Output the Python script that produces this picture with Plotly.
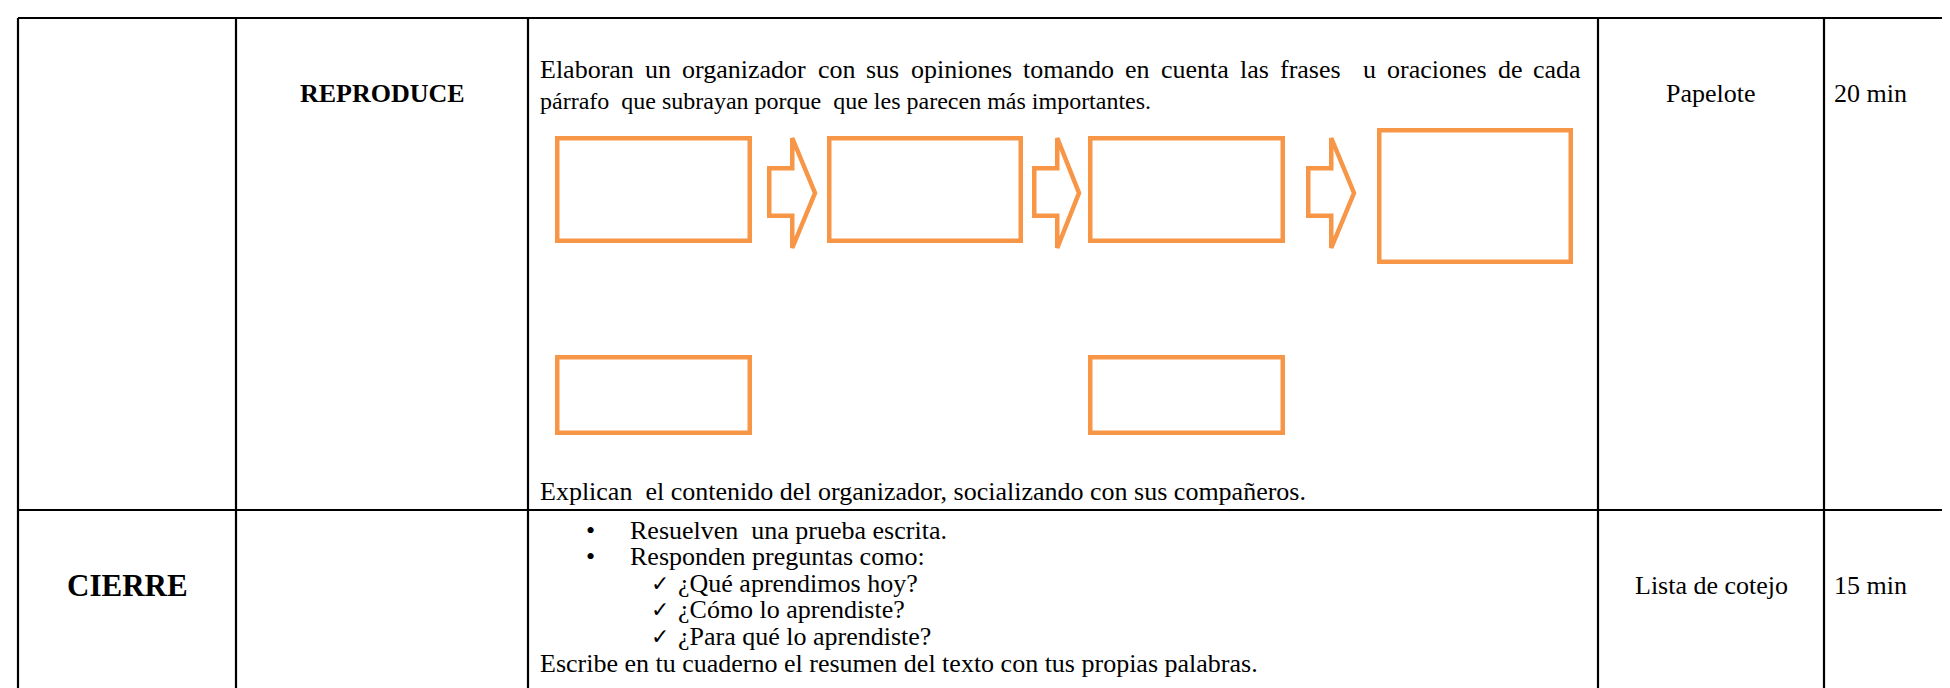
import plotly.graph_objects as go

# ---------------- DATA (text content of the table) ----------------
section_labels = ["", "CIERRE"]
process_labels = ["REPRODUCE", ""]
organizer_lines = [
    "Elaboran un organizador con sus opiniones tomando en cuenta las frases  u oraciones de cada",
    "párrafo  que subrayan porque  que les parecen más importantes.",
]
organizer_closing = "Explican  el contenido del organizador, socializando con sus compañeros."
cierre_bullets = ["Resuelven  una prueba escrita.", "Responden preguntas como:"]
cierre_checks = ["¿Qué aprendimos hoy?", "¿Cómo lo aprendiste?", "¿Para qué lo aprendiste?"]
cierre_closing = "Escribe en tu cuaderno el resumen del texto con tus propias palabras."
materials = ["Papelote", "Lista de cotejo"]
durations = ["20 min", "15 min"]
organizer_top_boxes = 4
organizer_bottom_boxes = [0, 2]   # which columns of the organizer have a second box

# ---------------- LAYOUT (positions / styles) ----------------
WIDTH, HEIGHT = 1950, 688
TABLE_LEFT, TABLE_TOP = 10, 10
COL_X = [228, 520, 1590, 1816]
ROW_DIV = 502
ROW_CENTER = [85, 577]
LINE_W = 2.2
ORANGE = "#F79646"
OWIDTH = 4.5
SERIF = "Liberation Serif, Times New Roman, serif"
FS = 26
FS_LINE2 = 24
TEXT_X = 530
TEXT_RIGHT = 1571
LINE_Y = [61, 93]
CLOSING_Y = 483
BOX_X = [(547, 744), (819, 1015), (1080, 1277), (1369, 1565)]
BOX_Y = [(128, 235), (128, 235), (128, 235), (120, 256)]
BOX2_Y = (347, 427)
ARROW_X = [(759, 782, 810), (1024, 1047, 1074), (1298, 1321, 1349)]
ARROW_Y = (127, 158, 210, 243)
BULLET_X, BULLET_TEXT_X = 582, 620
CHECK_X, CHECK_TEXT_X = 652, 668
LIST_Y0, LIST_DY = 522, 26.6

# Times / Liberation Serif advance widths (1/1000 em) for justification
TW = dict(zip("abcdefghijklmnopqrstuvwxyz",
              [444, 500, 444, 500, 444, 333, 500, 500, 278, 278, 500, 278, 778,
               500, 500, 500, 500, 333, 389, 278, 500, 500, 722, 500, 500, 444]))
TW.update({" ": 250, "E": 611, "á": 444, ",": 250, ".": 250})


def tw(s, size):
    return sum(TW.get(c, 500) for c in s) / 1000.0 * size


fig = go.Figure()
fig.add_trace(go.Scatter(x=[0, WIDTH], y=[0, HEIGHT], mode="markers",
                         marker=dict(opacity=0), hoverinfo="skip", showlegend=False))

shapes = []
# table grid
shapes.append(dict(type="line", x0=TABLE_LEFT, x1=WIDTH + 5, y0=TABLE_TOP, y1=TABLE_TOP))
shapes.append(dict(type="line", x0=TABLE_LEFT, x1=WIDTH + 5, y0=ROW_DIV, y1=ROW_DIV))
for x in [TABLE_LEFT] + COL_X:
    shapes.append(dict(type="line", x0=x, x1=x, y0=TABLE_TOP, y1=HEIGHT + 5))
for s in shapes:
    s.update(xref="x", yref="y", line=dict(color="black", width=LINE_W))

# organizer boxes
ins = OWIDTH / 2
for i in range(organizer_top_boxes):
    (x0, x1), (y0, y1) = BOX_X[i], BOX_Y[i]
    shapes.append(dict(type="rect", xref="x", yref="y", x0=x0 + ins, x1=x1 - ins,
                       y0=y0 + ins, y1=y1 - ins, line=dict(color=ORANGE, width=OWIDTH)))
for i in organizer_bottom_boxes:
    (x0, x1) = BOX_X[i]
    y0, y1 = BOX2_Y
    shapes.append(dict(type="rect", xref="x", yref="y", x0=x0 + ins, x1=x1 - ins,
                       y0=y0 + ins, y1=y1 - ins, line=dict(color=ORANGE, width=OWIDTH)))
# block arrows
ht, st, sb, hb = ARROW_Y
tip_y = (ht + hb) / 2
for (xl, xb, xt) in ARROW_X:
    p = (f"M {xl + ins},{st + ins} L {xb + ins},{st + ins} L {xb + ins},{ht + 3} "
         f"L {xt - 3},{tip_y} L {xb + ins},{hb - 3} L {xb + ins},{sb - ins} "
         f"L {xl + ins},{sb - ins} Z")
    shapes.append(dict(type="path", xref="x", yref="y", path=p,
                       line=dict(color=ORANGE, width=OWIDTH)))

ann = []


def txt(x, y, t, size=FS, bold=False, xanchor="left"):
    ann.append(dict(x=x, y=y, xref="x", yref="y", text=(f"<b>{t}</b>" if bold else t),
                    showarrow=False, xanchor=xanchor, yanchor="middle",
                    font=dict(family=SERIF, size=size, color="black")))


# column 0 / 1 headings
for i, lab in enumerate(section_labels):
    if lab:
        txt((TABLE_LEFT + COL_X[0]) / 2, ROW_CENTER[i], lab, size=31, bold=True, xanchor="center")
for i, lab in enumerate(process_labels):
    if lab:
        txt((COL_X[0] + COL_X[1]) / 2, ROW_CENTER[i], lab, size=26, bold=True, xanchor="center")

# justified first line
words = organizer_lines[0].split(" ")
tokens = []
gap_units = 0
for w in words:
    if w == "":
        gap_units += 1
        continue
    tokens.append((w, gap_units))
    gap_units = 1
total_word = sum(tw(w, FS) for w, _ in tokens)
total_gaps = sum(g for _, g in tokens[1:])
unit = (TEXT_RIGHT - TEXT_X - total_word) / total_gaps
x = TEXT_X
for k, (w, g) in enumerate(tokens):
    if k > 0:
        x += g * unit
    txt(x, LINE_Y[0], w)
    x += tw(w, FS)
# second line (left aligned)
txt(TEXT_X, LINE_Y[1], organizer_lines[1].replace("  ", "\u00a0 "), size=FS_LINE2)
txt(TEXT_X, CLOSING_Y, organizer_closing.replace("  ", "\u00a0 "))

# cierre list
row = 0
for b in cierre_bullets:
    y = LIST_Y0 + row * LIST_DY
    txt(BULLET_X, y, "•", xanchor="center")
    txt(BULLET_TEXT_X, y, b.replace("  ", "\u00a0 "))
    row += 1
for c in cierre_checks:
    y = LIST_Y0 + row * LIST_DY
    txt(CHECK_X, y, "✓", size=22, xanchor="center")
    txt(CHECK_TEXT_X, y, c)
    row += 1
txt(TEXT_X, LIST_Y0 + row * LIST_DY, cierre_closing)

# materials and durations
for i, m in enumerate(materials):
    txt((COL_X[2] + COL_X[3]) / 2, ROW_CENTER[i], m, xanchor="center")
for i, d in enumerate(durations):
    txt(COL_X[3] + 8, ROW_CENTER[i], d)

fig.update_layout(
    width=WIDTH, height=HEIGHT,
    margin=dict(l=0, r=0, t=0, b=0),
    paper_bgcolor="white", plot_bgcolor="white",
    xaxis=dict(range=[0, WIDTH], visible=False, fixedrange=True),
    yaxis=dict(range=[HEIGHT, 0], visible=False, fixedrange=True),
    shapes=shapes, annotations=ann, showlegend=False,
)
fig.write_html("out.html")
